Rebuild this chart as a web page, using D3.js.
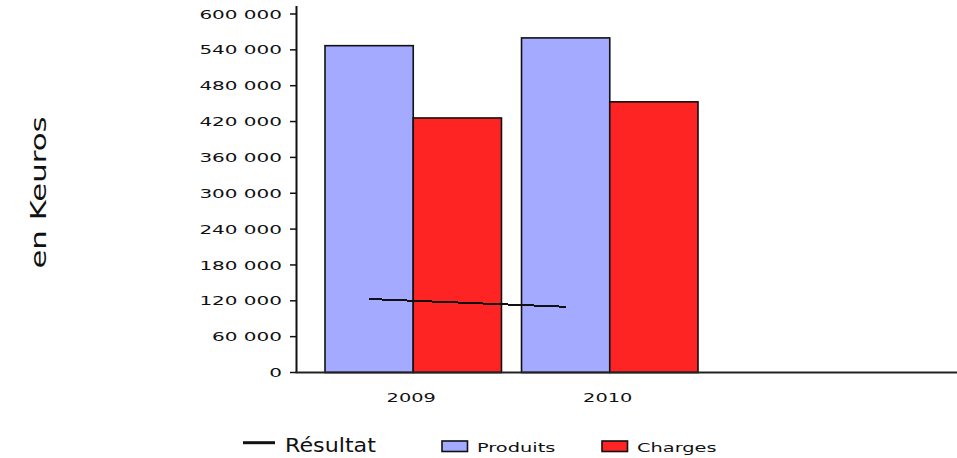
<!DOCTYPE html>
<html>
<head>
<meta charset="utf-8">
<script src="https://cdn.jsdelivr.net/npm/d3@7"></script>
<style>
  html, body { margin: 0; padding: 0; background: #fff; }
  svg { display: block; font-family: "DejaVu Sans", sans-serif; }
</style>
</head>
<body>
<svg id="chart" width="957" height="458"></svg>
<script>
// Values in Keuros
const years = ["2009", "2010"];
const seriesNames = ["Produits", "Charges"];
const produits = [547000, 560000];
const charges = [426000, 453000];
const resultat = [123000, 110000];
const yTicks = [0, 60000, 120000, 180000, 240000, 300000, 360000, 420000, 480000, 540000, 600000];
const colors = { Produits: "#a3aaff", Charges: "#fe2424" };

const svg = d3.select("#chart");

const y = d3.scaleLinear().domain([0, 600000]).range([372.5, 14]);
const x0 = d3.scaleBand().domain(years).range([325, 698]).paddingInner(20 / 196).paddingOuter(0);
const x1 = d3.scaleBand().domain(seriesNames).range([0, x0.bandwidth()]);

const fmt = v => d3.format(",")(v).replace(/,/g, " ");

// wide text: glyphs stretched along the reading direction
function wideText(g, str, x, yy, size, sx, anchor, rot) {
  return g.append("text")
    .attr("transform", `translate(${x},${yy})${rot ? ` rotate(${rot})` : ""} scale(${sx},1)`)
    .attr("text-anchor", anchor)
    .attr("font-size", size)
    .attr("fill", "#111")
    .text(str);
}

// bars
const rows = years.map((yr, i) => ({ year: yr, Produits: produits[i], Charges: charges[i] }));
const groups = svg.append("g").selectAll("g").data(rows).join("g")
  .attr("transform", d => `translate(${x0(d.year)},0)`);
groups.selectAll("rect")
  .data(d => seriesNames.map(k => ({ key: k, value: d[k] })))
  .join("rect")
  .attr("x", d => x1(d.key))
  .attr("y", d => y(d.value))
  .attr("width", x1.bandwidth())
  .attr("height", d => y(0) - y(d.value))
  .attr("fill", d => colors[d.key])
  .attr("stroke", "#111")
  .attr("stroke-width", 1.6);

// Résultat line through the Produits bar centres
const line = d3.line()
  .x((d, i) => x0(years[i]) + x1("Produits") + x1.bandwidth() / 2)
  .y(d => y(d));
svg.append("path")
  .datum(resultat)
  .attr("d", line)
  .attr("fill", "none")
  .attr("stroke", "#111")
  .attr("stroke-width", 2)
  .attr("shape-rendering", "crispEdges");

// y axis
const axisX = 296.5;
svg.append("line")
  .attr("x1", axisX).attr("x2", axisX)
  .attr("y1", 6).attr("y2", y(0))
  .attr("stroke", "#111").attr("stroke-width", 2);
const yg = svg.append("g");
yTicks.forEach(t => {
  yg.append("line")
    .attr("x1", 290).attr("x2", axisX)
    .attr("y1", y(t)).attr("y2", y(t))
    .attr("stroke", "#111").attr("stroke-width", 1.5);
  wideText(yg, fmt(t), 282, y(t) + 4.6, 12.5, 1.6, "end");
});

// x axis
svg.append("line")
  .attr("x1", axisX - 1).attr("x2", 957)
  .attr("y1", y(0)).attr("y2", y(0))
  .attr("stroke", "#222").attr("stroke-width", 2);
years.forEach(yr => {
  wideText(svg, yr, x0(yr) + x0.bandwidth() / 2 - 2, 402, 12.5, 1.55, "middle");
});

// y axis title
wideText(svg, "en Keuros", 45.5, 192.5, 22, 1.4, "middle", -90);

// legend
const lg = svg.append("g");
lg.append("line")
  .attr("x1", 243).attr("x2", 275).attr("y1", 442.7).attr("y2", 442.7)
  .attr("stroke", "#111").attr("stroke-width", 3);
wideText(lg, "Résultat", 285, 452.3, 19, 1.17, "start");

const legendItems = [
  { key: "Produits", x: 442 },
  { key: "Charges", x: 602 }
];
legendItems.forEach(it => {
  lg.append("rect")
    .attr("x", it.x).attr("y", 441)
    .attr("width", 25.5).attr("height", 10.5)
    .attr("fill", colors[it.key])
    .attr("stroke", "#111").attr("stroke-width", 1.6);
  wideText(lg, it.key, it.x + 35, 452.3, 12.5, 1.55, "start");
});
</script>
</body>
</html>
